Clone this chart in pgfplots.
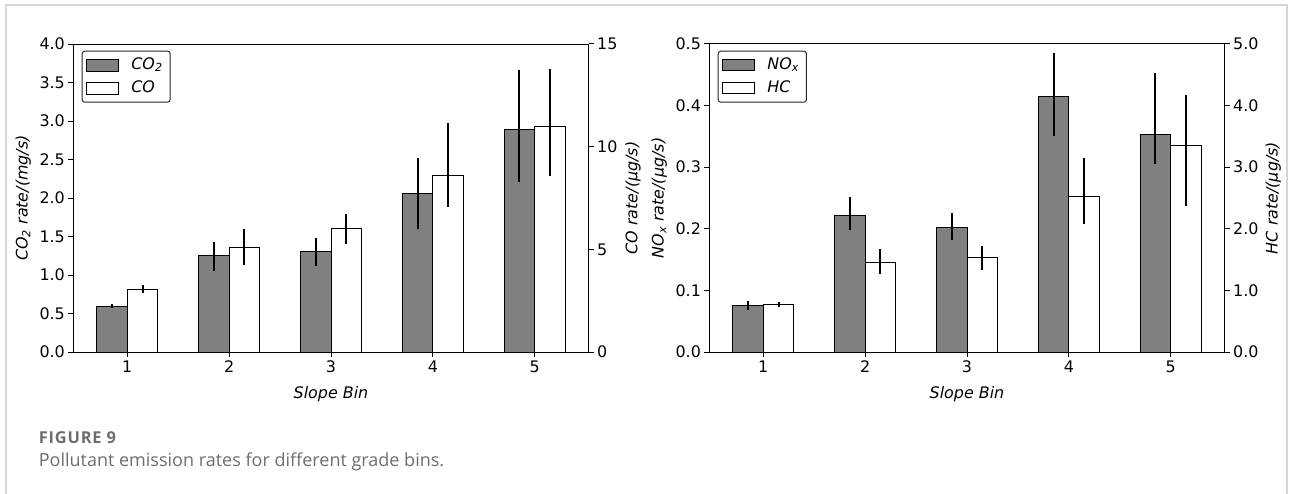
\documentclass[border=0pt]{standalone}
\usepackage{fontspec}
\setmainfont{DejaVu Sans}
\newfontfamily\capfont{Open Sans}
\newfontfamily\capfontls[LetterSpace=5]{Open Sans}
\usepackage{pgfplots}
\usepackage{pgfplotstable}
\pgfplotsset{compat=1.18}
\definecolor{barg}{HTML}{808080}
\definecolor{capgray}{HTML}{6E6E6E}
\definecolor{framegray}{HTML}{D6D6D6}
\newcommand\lfont{\fontsize{15.9}{18}\selectfont}

% CO2 (mg/s)
\pgfplotstableread{
x y ep em
0.85 0.597 0.030 0.030
1.85 1.247 0.186 0.191
2.85 1.303 0.178 0.182
3.85 2.052 0.463 0.459
4.85 2.896 0.766 0.688
}\tabCOtwo
% CO (ug/s)
\pgfplotstableread{
x y ep em
1.15 3.05 0.20 0.19
2.15 5.10 0.87 0.86
3.15 6.02 0.70 0.74
4.15 8.59 2.55 1.51
5.15 10.97 2.83 2.40
}\tabCO
% NOx (ug/s)
\pgfplotstableread{
x y ep em
0.85 0.0752 0.0071 0.0076
1.85 0.2224 0.0292 0.0249
2.85 0.2013 0.0243 0.0195
3.85 0.4150 0.0704 0.0638
4.85 0.3523 0.1001 0.0471
}\tabNOx
% HC (ug/s)
\pgfplotstableread{
x y ep em
1.15 0.768 0.038 0.043
2.15 1.445 0.232 0.184
3.15 1.526 0.189 0.189
4.15 2.532 0.612 0.454
5.15 3.355 0.812 0.979
}\tabHC

\pgfplotsset{
  mybase/.style={
    scale only axis, width=515.4pt, height=308pt,
    xmin=0.47, xmax=5.53, ymin=0,
    xtick={1,2,3,4,5},
    tick align=outside, major tick length=4.9pt,
    tick style={black, line width=1pt},
    axis line style={black, line width=1pt},
    ticklabel style={font=\lfont},
    label style={font=\lfont\itshape},
    xlabel style={yshift=-7pt},
    /pgf/number format/assume math mode=true,
  },
  mybar/.style={ybar, bar width=0.3, bar shift=0pt, draw=black, line width=1pt, fill=#1,
    error bars/y dir=both, error bars/y explicit, error bars/error mark=none,
    error bars/error bar style={line width=2pt, black}},
  mylegend/.style={legend image code/.code={\draw[sharp corners,##1] (0pt,-5.8pt) rectangle (32pt,5.8pt);}},
  myleg/.style={legend style={at={(0,1)}, anchor=north west, xshift=8.4pt, yshift=-6.7pt,
    draw=black!85, line width=1pt, rounded corners=2.5pt, inner xsep=3.5pt, inner ysep=2.5pt,
    font=\lfont\itshape, nodes={inner sep=4pt, text height=11.6pt, text depth=3.4pt},
    /tikz/column 1/.style={column sep=8.7pt}},
    legend cell align=left},
  fmt1/.style={yticklabel style={/pgf/number format/.cd, fixed, fixed zerofill, precision=1}},
}

\begin{document}
\begin{tikzpicture}
\path[use as bounding box] (0,0) rectangle (1292pt,493pt);
\draw[framegray, line width=1.5pt] (6pt,-3pt) -- (6pt,488pt) -- (1287pt,488pt) -- (1287pt,-3pt);

% ---------- left panel ----------
\begin{axis}[mybase, myleg, fmt1, at={(73.3pt,141pt)}, anchor=south west,
  xtick pos=left, ytick pos=left,
  ymax=4, ytick={0,0.5,...,4.0},
  xlabel={Slope Bin}, ylabel={CO\textsubscript{2} rate/(mg/s)},
  ylabel style={at={(axis description cs:-0.097,0.5)}, anchor=center}]
\addplot[mybar=barg, forget plot] table[x=x, y=y, y error plus=ep, y error minus=em] {\tabCOtwo};
\addlegendimage{mylegend, fill=barg, draw=black, line width=1pt}
\addlegendentry{CO\textsubscript{2}}
\addlegendimage{mylegend, fill=white, draw=black, line width=1pt}
\addlegendentry{CO}
\end{axis}
\begin{axis}[mybase, at={(73.3pt,141pt)}, anchor=south west,
  axis x line=none, axis y line*=right,
  ymax=15, ytick={0,5,10,15},
  ylabel={CO rate/(μg/s)},
  ylabel style={at={(axis description cs:1.086,0.5)}, anchor=center}]
\addplot[mybar=white] table[x=x, y=y, y error plus=ep, y error minus=em] {\tabCO};
\end{axis}

% ---------- right panel ----------
\begin{axis}[mybase, myleg, fmt1, at={(709.3pt,141pt)}, anchor=south west,
  xtick pos=left, ytick pos=left,
  ymax=0.5, ytick={0,0.1,...,0.5},
  xlabel={Slope Bin}, ylabel={NO\textsubscript{x} rate/(μg/s)},
  ylabel style={at={(axis description cs:-0.097,0.5)}, anchor=center}]
\addplot[mybar=barg, forget plot] table[x=x, y=y, y error plus=ep, y error minus=em] {\tabNOx};
\addlegendimage{mylegend, fill=barg, draw=black, line width=1pt}
\addlegendentry{NO\textsubscript{x}}
\addlegendimage{mylegend, fill=white, draw=black, line width=1pt}
\addlegendentry{HC}
\end{axis}
\begin{axis}[mybase, fmt1, at={(709.3pt,141pt)}, anchor=south west,
  axis x line=none, axis y line*=right,
  ymax=5, ytick={0,1,...,5},
  ylabel={HC rate/(μg/s)},
  ylabel style={at={(axis description cs:1.094,0.5)}, anchor=center}]
\addplot[mybar=white] table[x=x, y=y, y error plus=ep, y error minus=em] {\tabHC};
\end{axis}

% ---------- caption ----------
\node[anchor=base west, inner sep=0, text=capgray, font=\capfontls\bfseries\fontsize{16.4}{18}\selectfont] at (38.6pt,49.7pt) {FIGURE 9};
\node[anchor=base west, inner sep=0, text=capgray, font=\capfont\fontsize{18}{20}\selectfont] at (38.6pt,26.3pt) {Pollutant emission rates for different grade bins.};
\end{tikzpicture}
\end{document}
